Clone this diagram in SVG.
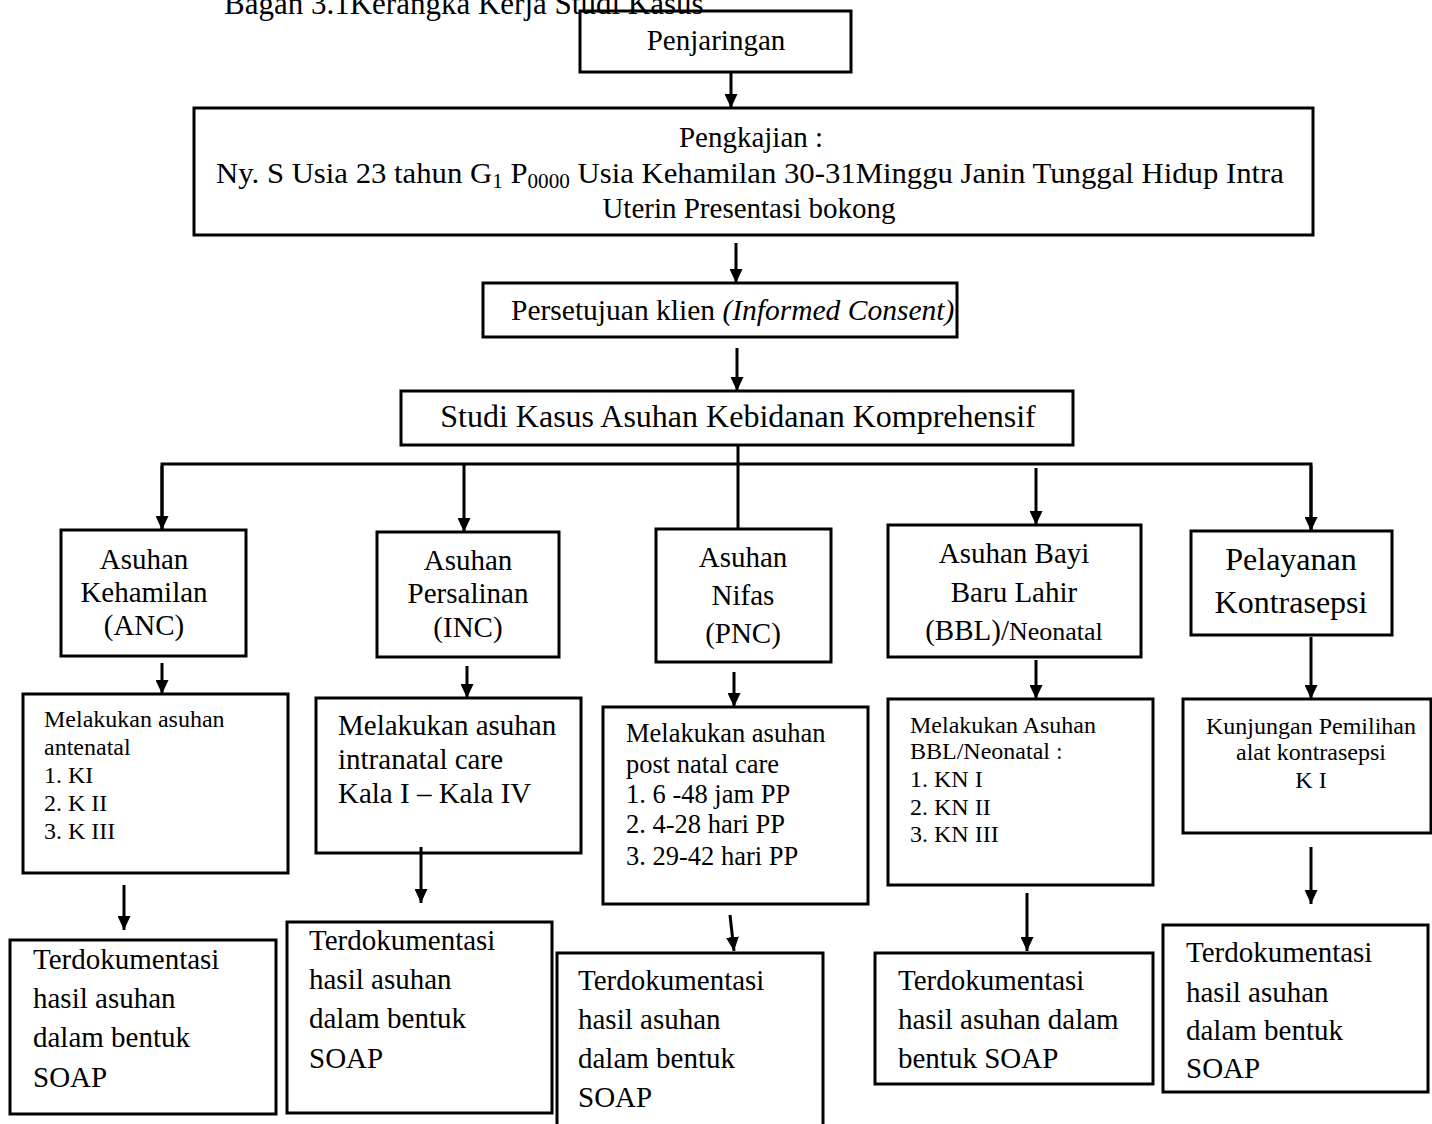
<svg xmlns="http://www.w3.org/2000/svg" width="1432" height="1124" viewBox="0 0 1432 1124">
<style>
.box{fill:#fff;stroke:#000;stroke-width:3}
text{font-family:"Liberation Serif","Times New Roman",serif;fill:#000}
.c{text-anchor:middle}
.f29{font-size:29px}
.f32{font-size:32px}
.f24{font-size:24px}
.f26{font-size:26.5px}
.conn line,.conn path{stroke:#000;stroke-width:3;fill:none}
.arr{marker-end:url(#ah)}
</style>
<defs>
<marker id="ah" markerUnits="userSpaceOnUse" markerWidth="15" markerHeight="13" refX="14" refY="6.5" orient="auto">
<path d="M0,0 L14,6.5 L0,13 z" fill="#000" stroke="none"/>
</marker>
</defs>
<rect width="1432" height="1124" fill="#fff"/>

<g id="penjaringan">
<rect class="box" x="580" y="11" width="271" height="61"/>
<text class="f29 c" x="716" y="50">Penjaringan</text>
</g>
<text id="title" x="224" y="14" style="font-size:31px">Bagan 3.1Kerangka Kerja Studi Kasus</text>

<g id="pengkajian">
<rect class="box" x="194" y="108" width="1119" height="127"/>
<text class="f29 c" x="751" y="147">Pengkajian :</text>
<text class="f29" x="216" y="183" textLength="1068" lengthAdjust="spacingAndGlyphs">Ny. S Usia 23 tahun G<tspan font-size="20" dy="5">1</tspan><tspan dy="-5"> P</tspan><tspan font-size="20" dy="5">0000</tspan><tspan dy="-5"> Usia Kehamilan 30-31Minggu Janin Tunggal Hidup Intra</tspan></text>
<text class="f29 c" x="749" y="218">Uterin Presentasi bokong</text>
</g>

<g id="persetujuan">
<rect class="box" x="483" y="283" width="474" height="54"/>
<text x="511" y="320" style="font-size:29.5px">Persetujuan klien <tspan font-style="italic">(Informed Consent)</tspan></text>
</g>

<g id="studi">
<rect class="box" x="401" y="391" width="672" height="54"/>
<text class="f32 c" x="738" y="427">Studi Kasus Asuhan Kebidanan Komprehensif</text>
</g>

<g id="anc">
<rect class="box" x="61" y="530" width="185" height="126"/>
<text class="f29 c" x="144" y="569">Asuhan</text>
<text class="f29 c" x="144" y="602">Kehamilan</text>
<text class="f29 c" x="144" y="635">(ANC)</text>
</g>
<g id="inc">
<rect class="box" x="377" y="532" width="182" height="125"/>
<text class="f29 c" x="468" y="570">Asuhan</text>
<text class="f29 c" x="468" y="603">Persalinan</text>
<text class="f29 c" x="468" y="637">(INC)</text>
</g>
<g id="pnc">
<rect class="box" x="656" y="529" width="175" height="133"/>
<text class="f29 c" x="743" y="567">Asuhan</text>
<text class="f29 c" x="743" y="605">Nifas</text>
<text class="f29 c" x="743" y="643">(PNC)</text>
</g>
<g id="bbl">
<rect class="box" x="888" y="525" width="253" height="132"/>
<text class="f29 c" x="1014" y="563">Asuhan Bayi</text>
<text class="f29 c" x="1014" y="602">Baru Lahir</text>
<text class="f29 c" x="1014" y="640">(BBL)/<tspan style="font-size:26px">Neonatal</tspan></text>
</g>
<g id="kontrasepsi">
<rect class="box" x="1191" y="531" width="201" height="104"/>
<text class="f32 c" x="1291" y="570">Pelayanan</text>
<text class="f32 c" x="1291" y="613">Kontrasepsi</text>
</g>

<g id="anc-detail">
<rect class="box" x="23" y="694" width="265" height="179"/>
<text class="f24" x="44" y="727">Melakukan asuhan</text>
<text class="f24" x="44" y="755">antenatal</text>
<text class="f24" x="44" y="783">1. KI</text>
<text class="f24" x="44" y="811">2. K II</text>
<text class="f24" x="44" y="839">3. K III</text>
</g>
<g id="inc-detail">
<rect class="box" x="316" y="698" width="265" height="155"/>
<text class="f29" x="338" y="735">Melakukan asuhan</text>
<text class="f29" x="338" y="769">intranatal care</text>
<text class="f29" x="338" y="803">Kala I – Kala IV</text>
</g>
<g id="pnc-detail">
<rect class="box" x="603" y="707" width="265" height="197"/>
<text class="f26" x="626" y="742">Melakukan asuhan</text>
<text class="f26" x="626" y="773">post natal care</text>
<text class="f26" x="626" y="803">1. 6 -48 jam PP</text>
<text class="f26" x="626" y="833">2. 4-28 hari PP</text>
<text class="f26" x="626" y="865">3. 29-42 hari PP</text>
</g>
<g id="bbl-detail">
<rect class="box" x="888" y="699" width="265" height="186"/>
<text class="f24" x="910" y="733">Melakukan Asuhan</text>
<text class="f24" x="910" y="759">BBL/Neonatal :</text>
<text class="f24" x="910" y="787">1. KN I</text>
<text class="f24" x="910" y="815">2. KN II</text>
<text class="f24" x="910" y="842">3. KN III</text>
</g>
<g id="kontrasepsi-detail">
<rect class="box" x="1183" y="699" width="248" height="134"/>
<text class="f24 c" x="1311" y="734">Kunjungan Pemilihan</text>
<text class="f24 c" x="1311" y="760">alat kontrasepsi</text>
<text class="f24 c" x="1311" y="788">K I</text>
</g>

<g id="anc-soap">
<rect class="box" x="10" y="940" width="266" height="174"/>
<text class="f29" x="33" y="969">Terdokumentasi</text>
<text class="f29" x="33" y="1008">hasil asuhan</text>
<text class="f29" x="33" y="1047">dalam bentuk</text>
<text class="f29" x="33" y="1087">SOAP</text>
</g>
<g id="inc-soap">
<rect class="box" x="287" y="922" width="265" height="191"/>
<text class="f29" x="309" y="950">Terdokumentasi</text>
<text class="f29" x="309" y="989">hasil asuhan</text>
<text class="f29" x="309" y="1028">dalam bentuk</text>
<text class="f29" x="309" y="1068">SOAP</text>
</g>
<g id="pnc-soap">
<rect class="box" x="557" y="953" width="266" height="190"/>
<text class="f29" x="578" y="990">Terdokumentasi</text>
<text class="f29" x="578" y="1029">hasil asuhan</text>
<text class="f29" x="578" y="1068">dalam bentuk</text>
<text class="f29" x="578" y="1107">SOAP</text>
</g>
<g id="bbl-soap">
<rect class="box" x="875" y="953" width="278" height="131"/>
<text class="f29" x="898" y="990">Terdokumentasi</text>
<text class="f29" x="898" y="1029">hasil asuhan dalam</text>
<text class="f29" x="898" y="1068">bentuk SOAP</text>
</g>
<g id="kontrasepsi-soap">
<rect class="box" x="1163" y="925" width="265" height="167"/>
<text class="f29" x="1186" y="962">Terdokumentasi</text>
<text class="f29" x="1186" y="1002">hasil asuhan</text>
<text class="f29" x="1186" y="1040">dalam bentuk</text>
<text class="f29" x="1186" y="1078">SOAP</text>
</g>

<g id="connectors" class="conn">
<line class="arr" x1="731" y1="72" x2="731" y2="108"/>
<line class="arr" x1="736" y1="243" x2="736" y2="283"/>
<line class="arr" x1="737" y1="348" x2="737" y2="391"/>
<line x1="738" y1="445" x2="738" y2="529"/>
<path d="M162,530 V464 H1311 V531" stroke-linejoin="miter"/>
<line class="arr" x1="162" y1="466" x2="162" y2="530"/>
<line class="arr" x1="464" y1="464" x2="464" y2="532"/>
<line class="arr" x1="1036" y1="468" x2="1036" y2="525"/>
<line class="arr" x1="1311" y1="466" x2="1311" y2="531"/>
<line class="arr" x1="162" y1="663" x2="162" y2="694"/>
<line class="arr" x1="467" y1="666" x2="467" y2="698"/>
<line class="arr" x1="734" y1="672" x2="734" y2="707"/>
<line class="arr" x1="1036" y1="660" x2="1036" y2="699"/>
<line class="arr" x1="1311" y1="637" x2="1311" y2="699"/>
<line class="arr" x1="124" y1="885" x2="124" y2="930"/>
<line class="arr" x1="421" y1="847" x2="421" y2="903"/>
<line class="arr" x1="730" y1="915" x2="734" y2="951"/>
<line class="arr" x1="1027" y1="893" x2="1027" y2="951"/>
<line class="arr" x1="1311" y1="847" x2="1311" y2="904"/>
</g>
</svg>
